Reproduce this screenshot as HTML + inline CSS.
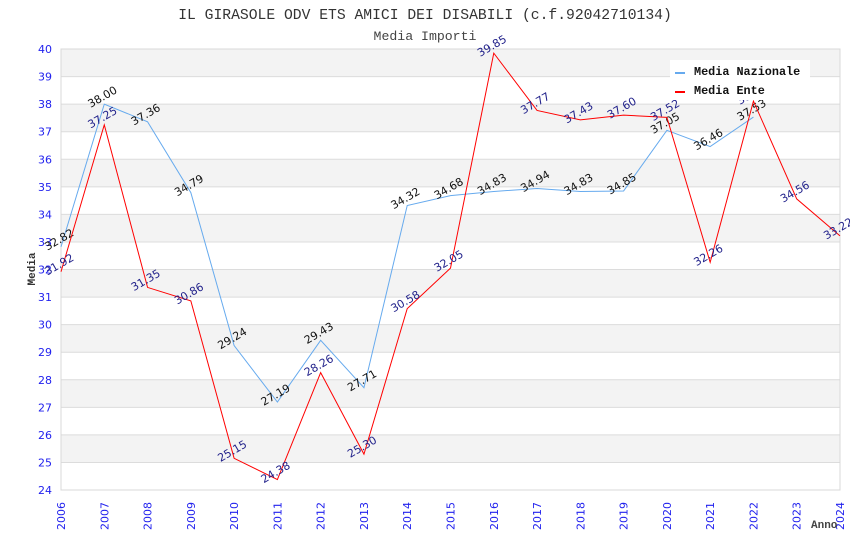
<!DOCTYPE html>
<html><head><meta charset="utf-8"><style>
body{margin:0;background:#fff;}
</style></head><body>
<svg id="c" width="850" height="550" xmlns="http://www.w3.org/2000/svg"></svg>
<script>
const years=[2006,2007,2008,2009,2010,2011,2012,2013,2014,2015,2016,2017,2018,2019,2020,2021,2022,2023,2024];
const nazionale=[32.82,38.00,37.36,34.79,29.24,27.19,29.43,27.71,34.32,34.68,34.83,34.94,34.83,34.85,37.05,36.46,37.53];
const ente=[31.92,37.25,31.35,30.86,25.15,24.38,28.26,25.30,30.58,32.05,39.85,37.77,37.43,37.60,37.52,32.26,38.11,34.56,33.22];
const yTicks=[24,25,26,27,28,29,30,31,32,33,34,35,36,37,38,39,40];
const X0=61,X1=840,Y0=49,Y1=490;
const SANS='"DejaVu Sans","Liberation Sans",sans-serif';
const xs=i=>X0+(X1-X0)*i/(years.length-1);
const ys=v=>Y1-(v-24)/16*(Y1-Y0);
const svg=document.getElementById('c');
const NS='http://www.w3.org/2000/svg';
function mk(t,a,p){const e=document.createElementNS(NS,t);for(const k in a)e.setAttribute(k,a[k]);(p||svg).appendChild(e);return e;}
for(let v=24;v<40;v++){
  const r=mk('rect',{x:X0,y:ys(v+1),width:X1-X0,height:ys(v)-ys(v+1),fill:((40-v)%2===1)?'#f3f3f3':'#ffffff'});
  
  
}
yTicks.forEach(v=>{
  const l=mk('line',{x1:X0,x2:X1,y1:ys(v),y2:ys(v),stroke:'#dcdcdc','stroke-width':1});
  
  
  const t=mk('text',{x:52,y:ys(v)+4,'text-anchor':'end','font-size':11,fill:'#2222ee','font-family':SANS});
  t.textContent=v;
  
  
});
mk('rect',{x:X0,y:Y0,width:X1-X0,height:Y1-Y0,fill:'none',stroke:'#d8d8d8'});
years.forEach((y,i)=>{
  const t=mk('text',{transform:`translate(${xs(i)+4},530) rotate(-90)`,'font-size':11,fill:'#2222ee','font-family':SANS});
  t.textContent=y;
  
  
});
function series(arr,color,lab,name){
  const p=mk('polyline',{points:arr.map((v,i)=>xs(i)+','+ys(v)).join(' '),fill:'none',stroke:color,'stroke-width':1});
  
  
  arr.forEach((v,i)=>{
    const t=mk('text',{transform:`translate(${xs(i)},${ys(v)-4}) rotate(-30)`,'text-anchor':'middle','font-size':11,fill:lab,'font-family':SANS});
    t.textContent=v.toFixed(2);
    
    
  });
}
series(nazionale,'#66aaee','#111','nazionale');
series(ente,'#ff0000','#22228b','ente');
</script>
<svg width="850" height="550" style="position:absolute;left:0;top:0" xmlns="http://www.w3.org/2000/svg">
<text x="425" y="19" text-anchor="middle" font-size="14.7" fill="#333" font-family="'Liberation Mono',monospace">IL GIRASOLE ODV ETS AMICI DEI DISABILI (c.f.92042710134)</text>
<text x="425" y="40" text-anchor="middle" font-size="13.2" fill="#444" font-family="'Liberation Mono',monospace">Media Importi</text>
<text transform="translate(35,269) rotate(-90)" text-anchor="middle" font-size="11" font-weight="bold" fill="#333" font-family="'Liberation Mono',monospace">Media</text>
<text x="811" y="528" font-size="11" font-weight="bold" fill="#444" font-family="'Liberation Mono',monospace">Anno</text>
<g>
<rect x="670" y="60" width="140" height="40" fill="#fff"/>
<rect x="675" y="72" width="10" height="2" fill="#66aaee"/>
<text x="694" y="75" font-size="11.8" font-weight="bold" fill="#111" font-family="'Liberation Mono',monospace">Media Nazionale</text>
<rect x="675" y="91" width="10" height="2" fill="#ff0000"/>
<text x="694" y="94" font-size="11.8" font-weight="bold" fill="#111" font-family="'Liberation Mono',monospace">Media Ente</text>
</g>
</svg>
</body></html>
